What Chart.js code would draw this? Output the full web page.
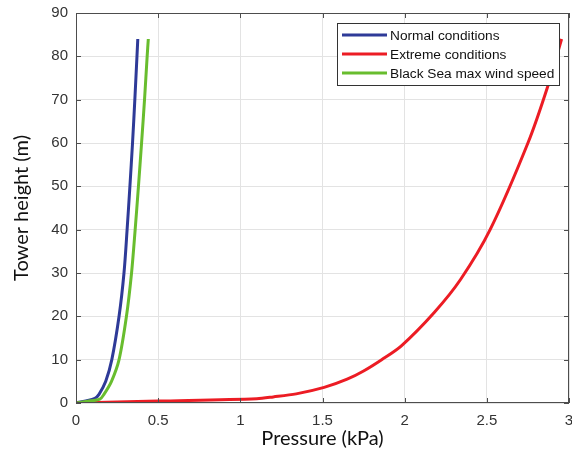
<!DOCTYPE html>
<html>
<head>
<meta charset="UTF-8" />
<title>Tower height vs pressure</title>
<script src="https://cdn.jsdelivr.net/npm/chart.js"></script>
<style>
  html, body { margin: 0; padding: 0; background: #fff; }
  canvas { display: block; }
</style>
</head>
<body>
<canvas id="chart" width="572" height="452"></canvas>
<script>
  // values
  const normalP = [0, 0.06, 0.115, 0.14, 0.181, 0.218, 0.262, 0.292, 0.311, 0.328, 0.344, 0.358, 0.371, 0.376];
  const normalH = [0, 0.5, 1.1, 2, 5, 10, 20, 30, 40, 50, 60, 70, 80, 84];

  const extremeP = [0, 0.5, 1.1, 1.2, 1.34, 1.51, 1.65, 1.75, 1.86, 1.98, 2.18, 2.34, 2.52, 2.75, 2.87, 2.955];
  const extremeH = [0, 0.45, 1, 1.4, 2.1, 3.6, 5.5, 7.4, 10, 13.2, 20.9, 28.5, 40, 60, 73, 84];

  const blackSeaP = [0, 0.07, 0.145, 0.17, 0.216, 0.262, 0.307, 0.338, 0.36, 0.38, 0.399, 0.417, 0.433, 0.44];
  const blackSeaH = [0, 0.4, 0.9, 2, 5, 10, 20, 30, 40, 50, 60, 70, 80, 84];

  const xTicks = [0, 0.5, 1, 1.5, 2, 2.5, 3];
  const yTicks = [0, 10, 20, 30, 40, 50, 60, 70, 80, 90];

  const pts = (xs, ys) => xs.map((x, i) => ({ x: x, y: ys[i] }));

  const axisColor = '#4d4d4d';
  const tickFont = { family: '"Liberation Sans", Arial, sans-serif', size: 15 };
  const titleFont = { family: 'Lato, "Open Sans", sans-serif', size: 20 };

  // top/right box lines, inward tick marks and the boxed legend
  const boxPlugin = {
    id: 'box',
    afterDatasetsDraw(chart) {
      const { ctx, chartArea: a, scales } = chart;
      ctx.save();
      ctx.strokeStyle = axisColor;
      ctx.lineWidth = 1;
      ctx.beginPath();
      ctx.moveTo(a.left, a.top + 0.5);
      ctx.lineTo(a.right, a.top + 0.5);
      ctx.moveTo(a.right - 0.5, a.top);
      ctx.lineTo(a.right - 0.5, a.bottom);
      ctx.moveTo(a.left + 0.5, a.top);
      ctx.lineTo(a.left + 0.5, a.bottom);
      ctx.moveTo(a.left, a.bottom - 0.5);
      ctx.lineTo(a.right, a.bottom - 0.5);
      xTicks.forEach(v => {
        const px = Math.round(scales.x.getPixelForValue(v)) + 0.5;
        ctx.moveTo(px, a.bottom); ctx.lineTo(px, a.bottom - 5);
        ctx.moveTo(px, a.top); ctx.lineTo(px, a.top + 5);
      });
      yTicks.forEach(v => {
        const py = Math.round(scales.y.getPixelForValue(v)) + 0.5;
        ctx.moveTo(a.left, py); ctx.lineTo(a.left + 5, py);
        ctx.moveTo(a.right, py); ctx.lineTo(a.right - 5, py);
      });
      ctx.stroke();
      ctx.restore();
    },
    afterDraw(chart) {
      const { ctx, chartArea: a } = chart;
      const ds = chart.data.datasets;
      const w = 222, h = 62;
      const x0 = a.right - 10 - w, y0 = a.top + 10;
      ctx.save();
      ctx.fillStyle = '#fff';
      ctx.fillRect(x0, y0, w, h);
      ctx.strokeStyle = '#333';
      ctx.lineWidth = 1;
      ctx.strokeRect(x0 + 0.5, y0 + 0.5, w, h);
      ctx.font = '13.7px "Liberation Sans", Arial, sans-serif';
      ctx.textBaseline = 'middle';
      ds.forEach((d, i) => {
        const yy = y0 + 12 + i * 19;
        ctx.strokeStyle = d.borderColor;
        ctx.lineWidth = 3;
        ctx.beginPath();
        ctx.moveTo(x0 + 5, yy);
        ctx.lineTo(x0 + 50, yy);
        ctx.stroke();
        ctx.fillStyle = '#111';
        ctx.fillText(d.label, x0 + 53, yy + 1);
      });
      ctx.restore();
    }
  };

  new Chart(document.getElementById('chart'), {
    type: 'line',
    data: {
      datasets: [
        { label: 'Normal conditions', data: pts(normalP, normalH), borderColor: '#2e3a98', order: 3 },
        { label: 'Extreme conditions', data: pts(extremeP, extremeH), borderColor: '#ec1c24', order: 2 },
        { label: 'Black Sea max wind speed', data: pts(blackSeaP, blackSeaH), borderColor: '#68bd2e', order: 1 }
      ]
    },
    options: {
      responsive: false,
      animation: false,
      devicePixelRatio: 1,
      layout: { padding: { top: 13, right: 3, left: 0, bottom: 0 } },
      elements: {
        line: { borderWidth: 3, tension: 0.3, fill: false, borderCapStyle: 'butt', borderJoinStyle: 'round' },
        point: { radius: 0 }
      },
      plugins: { legend: { display: false }, tooltip: { enabled: false } },
      scales: {
        x: {
          type: 'linear',
          min: 0, max: 3,
          afterBuildTicks: s => { s.ticks = xTicks.map(v => ({ value: v })); },
          afterFit: s => { s.height = 49; s.paddingLeft = 0; s.paddingRight = 0; },
          grid: { color: '#e3e3e3', drawTicks: false },
          border: { display: false },
          ticks: { color: '#333', font: tickFont, padding: 9, maxRotation: 0, callback: v => String(v) },
          title: { display: true, text: 'Pressure (kPa)', color: '#111', font: titleFont, padding: { top: 0, bottom: 1 } }
        },
        y: {
          min: 0, max: 90,
          afterBuildTicks: s => { s.ticks = yTicks.map(v => ({ value: v })); },
          afterFit: s => { s.width = 76; s.paddingTop = 0; s.paddingBottom = 0; },
          grid: { color: '#e3e3e3', drawTicks: false },
          border: { display: false },
          ticks: { color: '#333', font: tickFont, padding: 8, callback: v => String(v) },
          title: { display: true, text: 'Tower height (m)', color: '#111', font: titleFont, padding: { top: 10, bottom: 0 } }
        }
      }
    },
    plugins: [boxPlugin]
  });
</script>
</body>
</html>
